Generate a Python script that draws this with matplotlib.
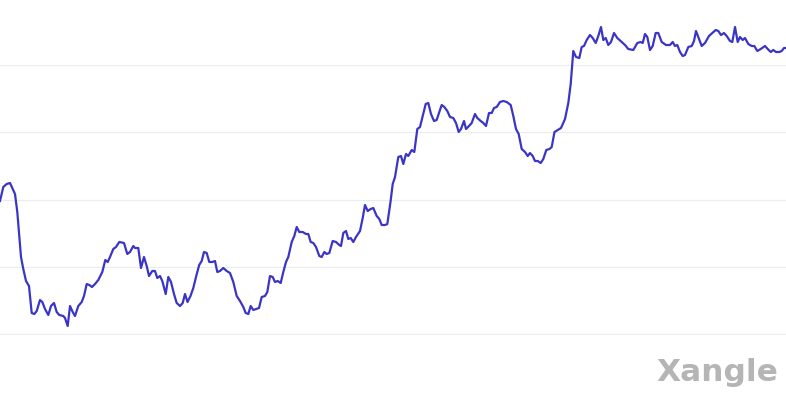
import matplotlib
matplotlib.use("Agg")
import matplotlib.pyplot as plt

# time positions (relative units) and values
t = [0, 3.3, 6.7, 10, 15, 17.3, 19.3, 21, 23.3, 26, 29, 31.7, 34.3, 36.7, 40, 42.3, 45, 48.3, 51, 54,
     56.7, 59.3, 63.3, 65, 67.7, 70, 72.7, 75, 78.3, 81.7, 84, 86.7, 89.3, 92, 95, 98.3, 102.3, 105.3,
     107.7, 110, 113.3, 116, 119.3, 124, 127.3, 130, 133.3, 135, 138.3, 141, 144, 146.7, 149, 152.3,
     155, 157.3, 160, 162.3, 165.7, 168.3, 171, 174, 176.7, 180, 182.7, 185, 187.5, 190.5, 193.3,
     196.5, 199.2, 201.7, 204, 206.7, 209.3, 212.3, 215, 217.3, 220, 223.3, 226.7, 230, 233.3, 236.7,
     240, 243.3, 245.7, 248.3, 250.7, 253.3, 256, 259, 261.7, 265, 267.3, 270, 272.7, 275, 277.7,
     280.7, 283.3, 286, 288.3, 291.7, 294.3, 296.7, 299.3, 302.7, 306, 308.3, 310.7, 313.3, 316,
     319.3, 321.7, 324.3, 326.7, 329.3, 332.7, 336, 339.3, 341, 343.3, 346, 348.3, 350.7, 353.3, 356,
     360, 362.7, 365, 367.7, 370.7, 373.3, 376.7, 379.3, 381.7, 385, 387.3, 390.5, 392.7, 395, 398.3,
     401, 403.3, 406, 408.3, 411.7, 414.3, 417.3, 420, 422.7, 425.7, 428.3, 431, 434, 436.7, 439.3,
     441.7, 444.3, 447.3, 450, 453.3, 456, 458.7, 461, 464, 466, 469, 471.7, 475, 477.3, 480.7, 483.3,
     486, 489, 491.7, 494, 496.7, 500, 503.3, 506.7, 510.7, 513.3, 516, 518.7, 521.7, 525, 527.7, 530,
     532.7, 535, 537.7, 540.7, 543.3, 546.3, 549.5, 551.7, 554.5, 557.8, 561, 565, 568.3, 570.7, 573.3,
     576, 579.3, 581.7, 584, 586.7, 590, 592.7, 595.7, 598.3, 601, 603.3, 605.7, 608.3, 611, 614,
     617.3, 621.7, 625, 628.3, 633.3, 637.3, 640.7, 642.7, 645, 647.3, 650, 652.7, 655.7, 658.3,
     661.7, 666, 670, 672.7, 675, 677.3, 680, 682.7, 685, 688.3, 691.7, 694, 696, 698.3, 701.7, 705,
     709, 712.3, 715.7, 718.3, 721, 724, 726.7, 730, 732.3, 735, 737.7, 740, 742.7, 745, 748.3, 751.7,
     754.3, 757.3, 760.7, 765, 767.7, 770.7, 773.3, 776, 779.3, 781.7, 784, 786]

values = [133, 147, 150, 151, 140, 122, 98, 77, 65, 53, 48, 21, 20, 23, 34, 32, 25, 19, 28, 31,
          22, 19, 18, 16, 8, 28, 22, 18, 28, 32, 38, 50, 49, 47, 50, 54, 62, 74,
          72, 77, 85, 87, 92, 91, 80, 82, 88, 86, 86, 66, 77, 68, 58, 63,
          63, 56, 58, 53, 40, 57, 52, 40, 31, 28, 31, 40, 32, 38, 46,
          59, 69, 73, 82, 81, 72, 72, 73, 62, 63, 66, 63, 61, 52, 38,
          33, 27, 21, 20, 28, 24, 25, 26, 37, 38, 42, 58, 57, 52, 53,
          51, 62, 72, 77, 92, 98, 107, 102, 102, 100, 100, 92, 91, 87,
          78, 77, 82, 80, 81, 93, 92, 89, 88, 101, 103, 95, 96, 92, 97,
          103, 116, 129, 123, 125, 126, 118, 115, 109, 109, 110, 132, 150, 157, 177,
          178, 170, 180, 178, 184, 182, 205, 207, 218, 230, 231, 220, 213, 214, 222,
          229, 227, 223, 217, 216, 211, 202, 205, 213, 205, 208, 211, 220, 216, 213, 211,
          208, 221, 221, 226, 227, 232, 233, 232, 229, 218, 205, 200, 185, 182, 178, 181,
          178, 173, 173, 171, 175, 184, 185, 187, 202, 204, 206, 215, 231, 250, 283,
          277, 276, 287, 288, 294, 299, 296, 291, 298, 307, 294, 296, 289, 292, 301,
          296, 292, 289, 285, 284, 291, 292, 291, 300, 297, 284, 288, 301, 301,
          292, 289, 289, 292, 288, 289, 282, 278, 279, 287, 288, 293, 303, 297, 288, 291,
          298, 301, 304, 303, 299, 301, 298, 293, 292, 307, 292, 297, 294, 296, 290, 288,
          288, 283, 285, 288, 285, 282, 284, 282, 282, 283, 286, 286]

grid_levels = [0, 67.25, 134.5, 201.75, 269]

fig = plt.figure(figsize=(7.86, 4.02), dpi=100)
ax = fig.add_axes([0, 0, 1, 1])
ax.set_xlim(0, 786)
ax.set_ylim(-67, 335)
for g in grid_levels:
    ax.axhline(g, color="#ececf0", linewidth=0.8, zorder=1)
ax.plot(t, values, color="#3b35c6", linewidth=1.6, solid_joinstyle="round", zorder=3)
for s in ax.spines.values():
    s.set_visible(False)
ax.set_xticks([])
ax.set_yticks([])
fig.text(0.990, 0.052, "Xangle", ha="right", va="baseline", fontsize=22.5,
         fontweight="bold", color="#b5b5b5", family=["DejaVu Sans"])
fig.savefig("out.png", dpi=100)
